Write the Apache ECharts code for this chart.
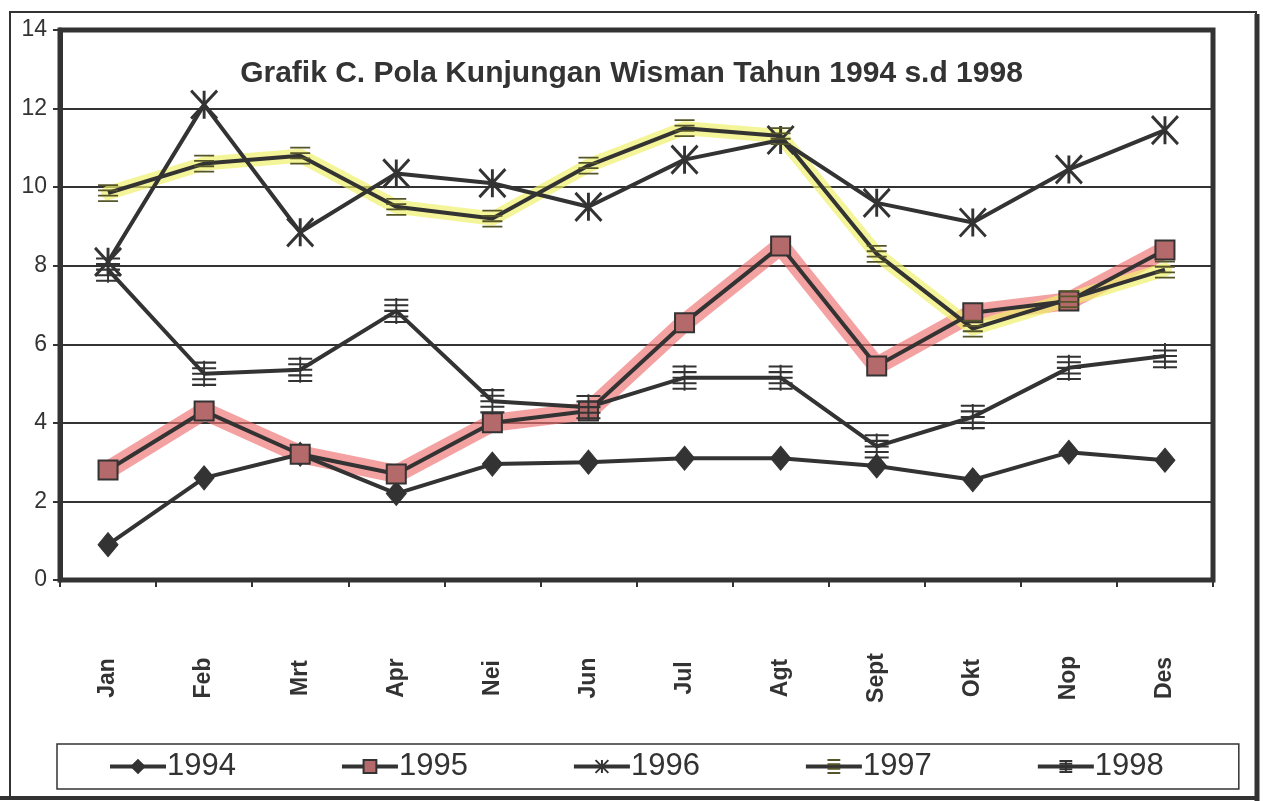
<!DOCTYPE html>
<html>
<head>
<meta charset="utf-8">
<script src="https://cdn.jsdelivr.net/npm/echarts@6/dist/echarts.min.js"></script>
<style>
html,body{margin:0;padding:0;background:#fff;}
#c{width:1263px;height:801px;}
</style>
</head>
<body>
<div id="c"></div>
<script>
var months = ['Jan','Feb','Mrt','Apr','Nei','Jun','Jul','Agt','Sept','Okt','Nop','Des'];
var years = ['1994','1995','1996','1997','1998'];
var yTicks = [0, 2, 4, 6, 8, 10, 12, 14];
var v1994 = [0.9, 2.6, 3.2, 2.2, 2.95, 3.0, 3.1, 3.1, 2.9, 2.55, 3.25, 3.05];
var v1995 = [2.8, 4.3, 3.2, 2.7, 4.0, 4.3, 6.55, 8.5, 5.45, 6.8, 7.1, 8.4];
var v1996 = [8.1, 12.1, 8.85, 10.35, 10.1, 9.5, 10.7, 11.2, 9.6, 9.1, 10.45, 11.45];
var v1997 = [9.85, 10.6, 10.8, 9.5, 9.2, 10.55, 11.5, 11.3, 8.3, 6.4, 7.15, 7.9];
var v1998 = [7.9, 5.25, 5.35, 6.85, 4.55, 4.4, 5.15, 5.15, 3.4, 4.15, 5.4, 5.7];

var dark = '#333333';
var chart = echarts.init(document.getElementById('c'));

var asterisk = 'path://M0,0L20,22M20,0L0,22M10,0L10,22';
var dashes = 'path://M0,0L20,0M0,5L20,5M0,10L20,10M0,15L20,15';
var hashbar = 'path://M0,0L24,0M0,6L24,6M0,12L24,12M0,18L24,18M0,24L24,24M12,-2L12,26';

function lineSeries(name, data, symbol, size, itemStyle) {
  return {
    name: name, type: 'line', data: data, symbol: symbol, symbolSize: size,
    showAllSymbol: true, z: 5,
    lineStyle: {color: dark, width: 4},
    itemStyle: itemStyle,
    emphasis: {disabled: true},
    animation: false
  };
}

var option = {
  animation: false,
  backgroundColor: '#ffffff',
  title: {
    text: 'Grafik C. Pola Kunjungan Wisman Tahun 1994 s.d 1998',
    left: 'center', top: 54,
    textStyle: {fontFamily: 'Liberation Sans, Arial, sans-serif', fontSize: 30, fontWeight: 'bold', color: dark}
  },
  grid: {left: 60, right: 50, top: 30, bottom: 221, show: true, borderColor: dark, borderWidth: 5, backgroundColor: 'transparent'},
  legend: {
    data: years,
    left: 57, top: 744,
    padding: [7, 75, 7, 51],
    itemGap: 104,
    itemWidth: 56, itemHeight: 16,
    borderColor: dark, borderWidth: 1.5,
    lineStyle: {width: 4, color: dark},
    textStyle: {fontFamily: 'Liberation Sans, Arial, sans-serif', fontSize: 31, color: dark, padding: [0, 0, 0, -4]},
    selectedMode: false
  },
  xAxis: {
    type: 'category', data: months, boundaryGap: true,
    axisLine: {lineStyle: {color: dark, width: 4}},
    axisTick: {show: true, length: 7, lineStyle: {color: dark, width: 2}},
    axisLabel: {rotate: 90, fontFamily: 'Liberation Sans, Arial, sans-serif', fontSize: 23, fontWeight: 'bold', color: dark, align: 'center', verticalAlign: 'middle', margin: 98},
    splitLine: {show: false}
  },
  yAxis: {
    type: 'value', min: yTicks[0], max: yTicks[yTicks.length - 1], interval: 2,
    axisLine: {show: true, lineStyle: {color: dark, width: 5}},
    axisTick: {show: true, length: 7, lineStyle: {color: dark, width: 2}},
    axisLabel: {fontFamily: 'Liberation Sans, Arial, sans-serif', fontSize: 23, color: dark, margin: 13},
    splitLine: {show: true, lineStyle: {color: dark, width: 2}}
  },
  graphic: [
    {type: 'rect', shape: {x: 10, y: 12, width: 1246, height: 785}, style: {fill: 'none', stroke: dark, lineWidth: 2}, silent: true, z: -1},
    {type: 'line', shape: {x1: 1257, y1: 14, x2: 1257, y2: 801}, style: {stroke: dark, lineWidth: 5}, silent: true},
    {type: 'line', shape: {x1: 0, y1: 798, x2: 1257, y2: 798}, style: {stroke: dark, lineWidth: 4}, silent: true}
  ],
  series: [
    {name: 'hl1995', type: 'line', data: v1995, symbol: 'none', z: 1,
     lineStyle: {color: 'rgba(238,110,110,0.65)', width: 18, cap: 'round', join: 'round'}, emphasis: {disabled: true}, silent: true},
    {name: 'hl1997', type: 'line', data: v1997, symbol: 'none', z: 1,
     lineStyle: {color: 'rgba(240,240,110,0.7)', width: 14, cap: 'round', join: 'round'}, emphasis: {disabled: true}, silent: true},
    lineSeries('1994', v1994, 'diamond', [20, 24], {color: dark, borderColor: dark, borderWidth: 1}),
    lineSeries('1995', v1995, 'rect', 19, {color: '#b46a6a', borderColor: dark, borderWidth: 2}),
    lineSeries('1996', v1996, asterisk, [26, 28], {color: 'none', borderColor: dark, borderWidth: 3}),
    lineSeries('1997', v1997, dashes, [20, 16], {color: 'none', borderColor: '#55552a', borderWidth: 2}),
    lineSeries('1998', v1998, hashbar, [24, 26], {color: 'none', borderColor: dark, borderWidth: 2})
  ]
};
chart.setOption(option);
</script>
</body>
</html>
